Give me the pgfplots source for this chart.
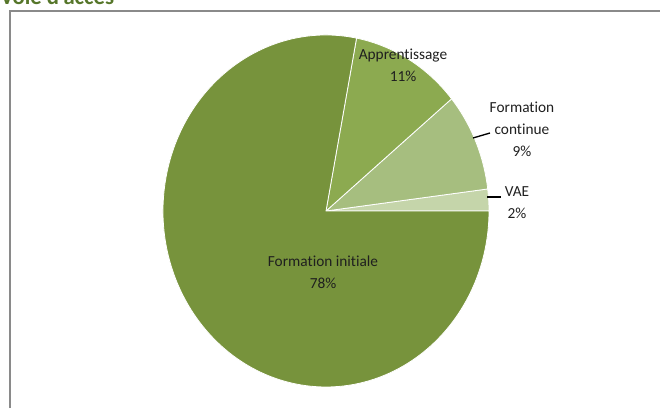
\documentclass[border=0pt]{standalone}
\usepackage{pgfplots}
\pgfplotsset{compat=1.18}
\usepackage{pgfplotstable}
\usepackage{fontspec}
\setmainfont{Carlito}[Ligatures=NoCommon]

% slice colours, in drawing order (counterclockwise from 0 deg)
\definecolor{c0}{HTML}{C5D5AA} % VAE
\definecolor{c1}{HTML}{A6BE7F} % Formation continue
\definecolor{c2}{HTML}{8CAA50} % Apprentissage
\definecolor{c3}{HTML}{77933C} % Formation initiale
\definecolor{ctitle}{HTML}{56762A}
\definecolor{cframe}{HTML}{8A8A8A}

\pgfplotstableread{
row pct
0 2
1 9
2 11
3 78
}\piedata

\begin{document}
\begin{tikzpicture}
\useasboundingbox (0,0) rectangle (495pt,306pt);
% cumulative angles from the percentages
\xdef\cum{0}
\pgfplotstableforeachcolumnelement{pct}\of\piedata\as\v{%
  \pgfmathsetmacro\s{\cum}%
  \pgfmathsetmacro\e{\cum+3.6*\v}%
  \expandafter\xdef\csname st\pgfplotstablerow\endcsname{\s}%
  \expandafter\xdef\csname en\pgfplotstablerow\endcsname{\e}%
  \xdef\cum{\e}%
}
\begin{axis}[
  x=0.75pt, y=0.75pt,
  xmin=0, xmax=660, ymin=0, ymax=408,
  hide axis,
]
% frame
\draw[cframe, line width=1.5pt] (axis cs:10,0) -- (axis cs:10,397) -- (axis cs:660,397);

\pgfplotsinvokeforeach{0,...,3}{
  \fill[c#1, draw=white, line width=0.6pt] (axis cs:326,197)
    -- ++(\csname st#1\endcsname:122.25pt and 132pt)
    arc[start angle=\csname st#1\endcsname, end angle=\csname en#1\endcsname,
        x radius=122.25pt, y radius=132pt] -- cycle;
}

% leader lines
\draw[black, line width=1pt] (axis cs:473,270) -- (axis cs:490,275);
\draw[black, line width=1pt] (axis cs:487,211) -- (axis cs:501,211);

\tikzset{lbl/.style={align=center, text=black!88, inner sep=0,
  font=\fontsize{11.5}{16.5}\selectfont}}
\node[lbl] at (axis cs:403,343) {Apprentissage\\11\%};
\node[lbl] at (axis cs:522,279) {Formation\\continue\\9\%};
\node[lbl] at (axis cs:517,205.5) {VAE\\2\%};
\node[lbl] at (axis cs:323,135.5) {Formation initiale\\78\%};

\node[anchor=base west, inner sep=0, text=ctitle,
  font=\bfseries\fontsize{17}{20}\selectfont] at (axis cs:0,403) {Voie d'accès};
\end{axis}
\end{tikzpicture}
\end{document}
